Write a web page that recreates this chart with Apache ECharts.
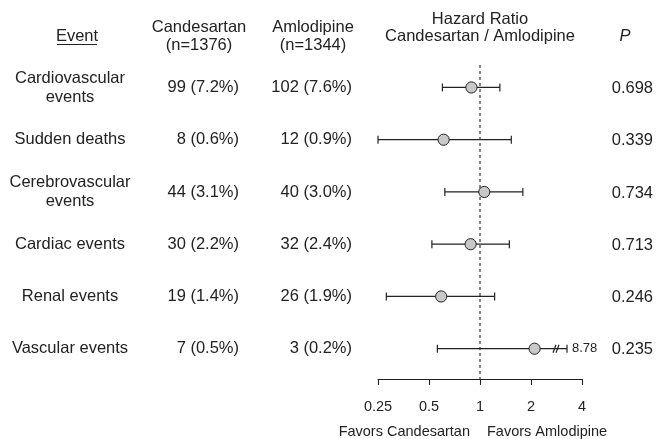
<!DOCTYPE html>
<html>
<head>
<meta charset="utf-8">
<script src="https://cdn.jsdelivr.net/npm/echarts@6/dist/echarts.min.js"></script>
<style>
  html, body { margin: 0; padding: 0; background: #fff; }
  #chart { width: 656px; height: 439px; }
</style>
</head>
<body>
<div id="chart"></div>
<script>
// Outcome rows
const events = ['Cardiovascular\nevents', 'Sudden deaths', 'Cerebrovascular\nevents',
                'Cardiac events', 'Renal events', 'Vascular events'];
const candesartanN = [99, 8, 44, 30, 19, 7];
const candesartanPct = [7.2, 0.6, 3.1, 2.2, 1.4, 0.5];
const amlodipineN = [102, 12, 40, 32, 26, 3];
const amlodipinePct = [7.6, 0.9, 3.0, 2.4, 1.9, 0.2];
// Hazard ratios (candesartan / amlodipine) with 95% CI
const hazardRatio = [0.89, 0.61, 1.06, 0.88, 0.59, 2.10];
const ciLower = [0.60, 0.25, 0.62, 0.52, 0.28, 0.56];
const ciUpper = [1.31, 1.53, 1.79, 1.49, 1.22, 8.78];
const pValues = ['0.698', '0.339', '0.734', '0.713', '0.246', '0.235'];
// Axis
const hrTicks = [0.25, 0.5, 1, 2, 4];
const headers = {
  event: 'Event',
  cand: 'Candesartan\n(n=1376)',
  aml: 'Amlodipine\n(n=1344)',
  hr: 'Hazard Ratio\nCandesartan / Amlodipine',
  p: 'P'
};
const favors = ['Favors Candesartan', 'Favors Amlodipine'];

const FONT = "'Liberation Sans', Arial, Helvetica, sans-serif";
const INK = '#222';
const HR_MIN = hrTicks[0], HR_MAX = hrTicks[hrTicks.length - 1];
const ROW_MIN = -0.43, ROW_MAX = 5.58;

const fmt = (n, p) => n + ' (' + p.toFixed(1) + '%)';

const rows = events.map((_, i) => [i, ciLower[i], ciUpper[i], hazardRatio[i]]);

const chart = echarts.init(document.getElementById('chart'), null, { renderer: 'canvas' });

chart.setOption({
  animation: false,
  backgroundColor: '#fff',
  grid: { left: 378, width: 204, top: 65, bottom: 60 },
  xAxis: {
    type: 'log',
    logBase: 2,
    min: HR_MIN,
    max: HR_MAX,
    splitNumber: 4,
    axisLine: { show: true, onZero: false, lineStyle: { color: INK, width: 1.1 } },
    axisTick: { show: true, length: 6, lineStyle: { color: INK, width: 1.1 } },
    axisLabel: {
      margin: 20, color: INK, fontFamily: FONT, fontSize: 14.5,
      formatter: v => String(Math.round(v * 100) / 100)
    },
    splitLine: { show: false }
  },
  yAxis: {
    type: 'value', inverse: true, min: ROW_MIN, max: ROW_MAX, show: false
  },
  graphic: [
    { type: 'text', x: 77, y: 36, style: { text: headers.event, font: '16.5px ' + FONT, fill: INK, align: 'center', verticalAlign: 'middle' } },
    { type: 'line', shape: { x1: 57, y1: 44.5, x2: 97, y2: 44.5 }, style: { stroke: INK, lineWidth: 1 } },
    { type: 'text', x: 199, y: 36.5, style: { text: headers.cand, font: '16.5px ' + FONT, fill: INK, align: 'center', verticalAlign: 'middle', lineHeight: 18 } },
    { type: 'text', x: 313, y: 36.5, style: { text: headers.aml, font: '16.5px ' + FONT, fill: INK, align: 'center', verticalAlign: 'middle', lineHeight: 18 } },
    { type: 'text', x: 480, y: 27.5, style: { text: headers.hr, font: '16.5px ' + FONT, fill: INK, align: 'center', verticalAlign: 'middle', lineHeight: 17 } },
    { type: 'text', x: 625, y: 36, style: { text: headers.p, font: 'italic 16.5px ' + FONT, fill: INK, align: 'center', verticalAlign: 'middle' } },
    { type: 'text', x: 470, y: 432, style: { text: favors[0], font: '14.5px ' + FONT, fill: INK, align: 'right', verticalAlign: 'middle' } },
    { type: 'text', x: 487, y: 432, style: { text: favors[1], font: '14.5px ' + FONT, fill: INK, align: 'left', verticalAlign: 'middle' } }
  ],
  series: [
    {
      // reference line at HR = 1
      type: 'line',
      data: [[1, ROW_MIN], [1, ROW_MAX]],
      symbol: 'none',
      silent: true,
      lineStyle: { color: '#333', width: 1.2, type: [3, 3] },
      z: 1
    },
    {
      // confidence intervals and point estimates
      type: 'custom',
      data: rows,
      encode: { x: [1, 2, 3], y: 0 },
      z: 3,
      renderItem(params, api) {
        const i = api.value(0);
        const lo = api.value(1), hi = api.value(2), est = api.value(3);
        const y = api.coord([1, i])[1];
        const xl = api.coord([lo, i])[0];
        const broken = hi > HR_MAX;
        const xEnd = api.coord([HR_MAX, i])[0];
        const xr = broken ? xEnd - 15 : api.coord([hi, i])[0];
        const xe = api.coord([est, i])[0];
        const stroke = { stroke: '#222', lineWidth: 1.2 };
        const children = [
          { type: 'line', shape: { x1: xl, y1: y, x2: xr, y2: y }, style: stroke },
          { type: 'line', shape: { x1: xl, y1: y - 4, x2: xl, y2: y + 4 }, style: stroke },
          { type: 'line', shape: { x1: xr, y1: y - 4, x2: xr, y2: y + 4 }, style: stroke }
        ];
        if (broken) {
          const bx = xr - 11;
          children.push(
            { type: 'line', shape: { x1: bx - 3, y1: y + 4, x2: bx, y2: y - 4 }, style: stroke },
            { type: 'line', shape: { x1: bx, y1: y + 4, x2: bx + 3, y2: y - 4 }, style: stroke },
            { type: 'text', x: xr + 5, y: y, style: { text: hi.toFixed(2), font: '13px ' + FONT, fill: INK, align: 'left', verticalAlign: 'middle' } }
          );
        }
        children.push({ type: 'circle', shape: { cx: xe, cy: y, r: 5.6 }, style: { fill: '#c8c8c8', stroke: '#222', lineWidth: 1 } });
        return { type: 'group', children };
      }
    },
    {
      // table columns: event, counts per arm, P value
      type: 'custom',
      data: rows,
      encode: { x: 3, y: 0 },
      clip: false,
      z: 2,
      renderItem(params, api) {
        const i = api.value(0);
        const y = api.coord([1, i])[1];
        const base = { font: '16.5px ' + FONT, fill: INK, verticalAlign: 'middle', lineHeight: 19 };
        return {
          type: 'group',
          children: [
            { type: 'text', x: 70, y: y, style: Object.assign({ text: events[i], align: 'center' }, base) },
            { type: 'text', x: 239, y: y, style: Object.assign({ text: fmt(candesartanN[i], candesartanPct[i]), align: 'right' }, base) },
            { type: 'text', x: 352, y: y, style: Object.assign({ text: fmt(amlodipineN[i], amlodipinePct[i]), align: 'right' }, base) },
            { type: 'text', x: 653, y: y + 1, style: Object.assign({ text: pValues[i], align: 'right' }, base) }
          ]
        };
      }
    }
  ]
});
</script>
</body>
</html>
